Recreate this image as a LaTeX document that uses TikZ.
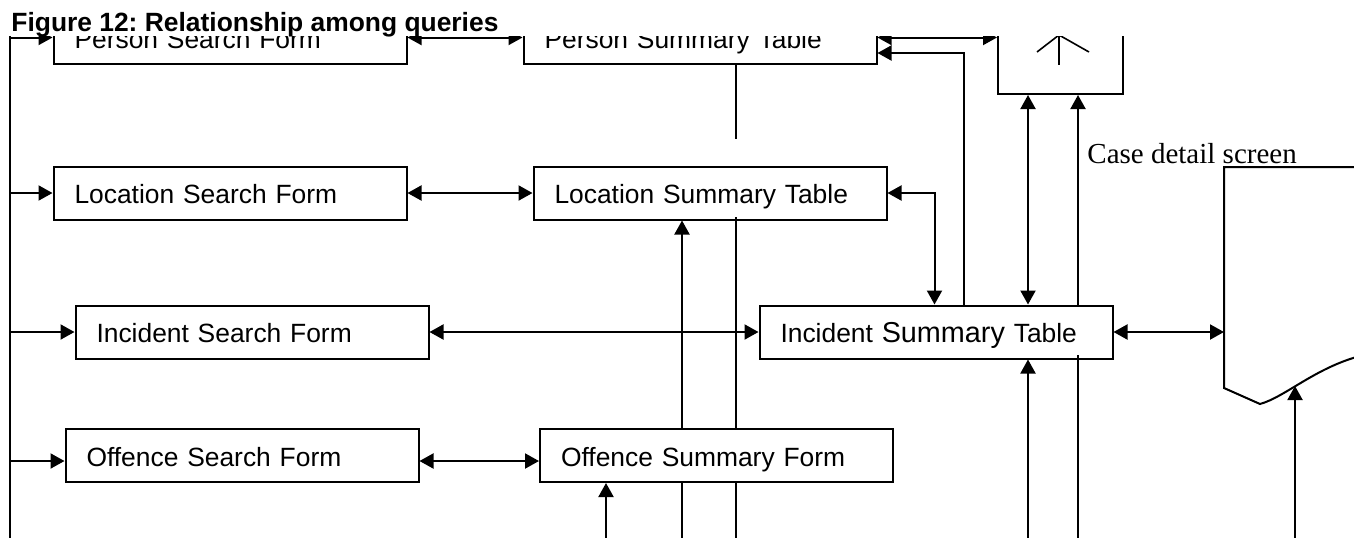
\documentclass[tikz,border=0pt]{standalone}
\usepackage{fontspec}
\usepackage{tikz}
\usetikzlibrary{arrows.meta,calc}
\setmainfont{Liberation Sans}
\newfontfamily\casefont{Liberation Serif}
\frenchspacing

\begin{document}
\begin{tikzpicture}[x=0.5pt,y=-0.5pt,>={Triangle[length=7pt,width=7.5pt]},
  form/.style={draw,line width=1pt,fill=white,minimum height=26.5pt,text width=155.5pt,text height=10.7pt,text depth=0pt,inner xsep=10.5pt,inner ysep=0pt,align=left,font=\fontsize{13.2}{15}\selectfont},
  link/.style={line width=1pt}]
\useasboundingbox (0,0) rectangle (1354,537);
\begin{scope}
\clip (0,36.2) rectangle (1354,537);
% forms and tables
\node[form] (psf) at (230,37.5) {Person Search Form};
\node[form] (pst) at (700,37.5) {Person Summary Table};
\node[form] (lsf) at (230,193) {Location Search Form};
\node[form] (lst) at (710,193) {Location Summary Table};
\node[form] (isf) at (252,332) {Incident Search Form};
\node[form] (ist) at (936,332) {Incident {\fontsize{14.4}{15}\selectfont Summary} Table};
\node[form] (osf) at (242,455.5) {Offence Search Form};
\node[form] (osm) at (716.5,455.5) {Offence Summary Form};
\node[draw,line width=1pt,minimum width=62.5pt,minimum height=60pt,inner sep=0pt] (actor) at (1060.5,34) {};
\coordinate (neck) at (1059,35);
\draw[line width=0.8pt] (1037,52) -- (neck) -- (1089,52);
\draw[line width=0.8pt] (1059,30) -- (1059,65);
% case detail screen
\draw[link] (1360,167) -- (1224,167) -- (1224,388) -- (1260,404) .. controls (1285,397) and (1315,368) .. (1360,356);
\coordinate (caseW) at (1224,332);
\coordinate (wave) at (1295,386);
% left bus
\coordinate (bus) at (10,0);
\coordinate (busEnd) at (10,540);
\draw[link] (bus) -- (busEnd);
\draw[link,->] (bus |- psf) -- (psf);
\draw[link,->] (bus |- lsf) -- (lsf);
\draw[link,->] (bus |- isf) -- (isf);
\draw[link,->] ($(bus |- osf)+(0,5.5)$) -- ($(osf.west)+(0,5.5)$);
% rows
\draw[link,<->] (psf) -- (pst);
\draw[link,<->] (pst) -- (pst -| actor.west);
\draw[link,->] ($(ist.north west)+(205,0)$) |- ($(pst.east)+(0,15.5)$);
\draw[link,<->] (lsf) -- (lst);
\draw[link,<->] (lst.east) -| ($(ist.north west)+(176,0)$);
\draw[link,<->] (isf) -- (ist);
\draw[link,<->] (ist) -- (caseW);
\draw[link,<->] ($(osf.east)+(0,5.5)$) -- ($(osm.west)+(0,5.5)$);
% lines from below
\coordinate (inOsm) at (606,540);
\coordinate (inLst) at (682,540);
\coordinate (thru) at (736,540);
\coordinate (inIst) at (1028,540);
\coordinate (inActor) at (1078,540);
\coordinate (inCase) at (1295,540);
\draw[link,->] (inOsm) -- (inOsm |- osm.south);
\draw[link] (inLst) -- (inLst |- osm.south);
\draw[link,->] (inLst |- osm.north) -- (inLst |- lst.south);
\draw[link] (thru) -- (thru |- osm.south);
\draw[link] (thru |- osm.north) -- ($(thru |- lst.south)+(0,-4)$);
\draw[link] (thru |- pst.south) -- ($(thru |- pst.south)+(0,74)$);
\draw[link,->] (inIst) -- (inIst |- ist.south);
\draw[link,<->] (inIst |- ist.north) -- (inIst |- actor.south);
\draw[link] (inActor) -- ($(inActor |- ist.south)+(0,-5)$);
\draw[link,->] (inActor |- ist.north) -- (inActor |- actor.south);
\draw[link,->] (inCase) -- (wave);
\end{scope}
\node[anchor=base west,inner sep=0pt,font=\casefont\fontsize{14.5}{16}\selectfont] (caselbl) at (1087,163) {Case detail screen};
\node[anchor=base west,inner sep=0pt,font=\fontsize{13.2}{15}\selectfont\bfseries] (title) at (11,31) {Figure 12: Relationship among queries};
\end{tikzpicture}
\end{document}
